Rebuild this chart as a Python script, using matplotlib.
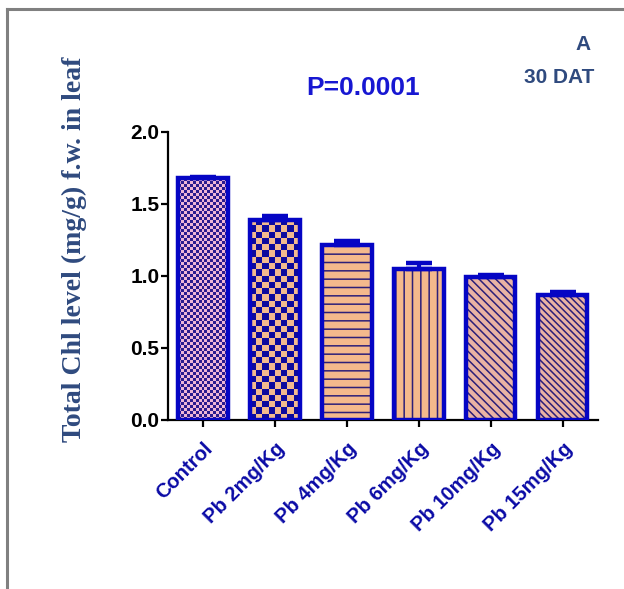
import matplotlib
matplotlib.use("Agg")
import matplotlib.pyplot as plt
from matplotlib.lines import Line2D
from matplotlib.colors import ListedColormap
import numpy as np

# Data: total chlorophyll in leaf at 30 DAT
categories = ["Control", "Pb 2mg/Kg", "Pb 4mg/Kg", "Pb 6mg/Kg", "Pb 10mg/Kg", "Pb 15mg/Kg"]
means = [1.68, 1.39, 1.215, 1.05, 0.99, 0.865]
errors = [0.01, 0.025, 0.025, 0.04, 0.015, 0.025]
yticks = [0.0, 0.5, 1.0, 1.5, 2.0]
ytick_labels = ["0.0", "0.5", "1.0", "1.5", "2.0"]

# Fill style per bar: checkerboard (cell size in px) or matplotlib hatch
styles = [
    {"kind": "checker", "cell": 3.0, "dark": "#2b1c8e", "light": "#eeb6d6"},
    {"kind": "checker", "cell": 6.2, "dark": "#0c0a9e", "light": "#f2ba8e"},
    {"kind": "hatch", "hatch": "--", "face": "#f4b98c"},
    {"kind": "hatch", "hatch": "||", "face": "#f4b98c"},
    {"kind": "hatch", "hatch": "\\\\\\\\", "face": "#eab3a4"},
    {"kind": "hatch", "hatch": "\\\\\\\\\\", "face": "#eab3a4"},
]

EDGE = "#0505c4"
HATCH = "#2d1f78"
SANS = "Liberation Sans"
SERIF = "Liberation Serif"

plt.rcParams["hatch.linewidth"] = 1.1
plt.rcParams["hatch.color"] = HATCH

fig = plt.figure(figsize=(6.24, 5.89), dpi=100)
ax = fig.add_axes([0.269, 0.287, 0.689, 0.489])

x = np.arange(len(categories))
width = 0.69
ax.set_xlim(-0.49, len(categories) - 0.51)
ax.set_ylim(0, 2.0)

# Fill layer
bars = []
for xi, m, st in zip(x, means, styles):
    if st["kind"] == "hatch":
        b = ax.bar(xi, m, width, color=st["face"], edgecolor=HATCH,
                   hatch=st["hatch"], linewidth=0, zorder=2)
    else:
        b = ax.bar(xi, m, width, color=st["light"], linewidth=0, zorder=2)
    bars.append(b[0])

fig.canvas.draw()

# Checkerboard fills, clipped to their bars
for bar, st in zip(bars, styles):
    if st["kind"] != "checker":
        continue
    x0, w, h = bar.get_x(), bar.get_width(), bar.get_height()
    p0 = ax.transData.transform((x0, 0))
    p1 = ax.transData.transform((x0 + w, h))
    ncols = max(1, int(round((p1[0] - p0[0]) / st["cell"])))
    nrows = max(1, int(round((p1[1] - p0[1]) / st["cell"])))
    grid = (np.add.outer(np.arange(nrows), np.arange(ncols)) % 2).astype(float)
    cmap = ListedColormap([st["dark"], st["light"]])
    im = ax.imshow(grid, cmap=cmap, extent=(x0, x0 + w, 0, h), origin="lower",
                   interpolation="nearest", aspect="auto", zorder=2.5)
    im.set_clip_path(bar)

# Outlines
ax.bar(x, means, width, fill=False, edgecolor=EDGE, linewidth=3.2, zorder=3)

# Upward error bars
ax.errorbar(x, means, yerr=[np.zeros(len(means)), errors], fmt="none",
            ecolor=EDGE, elinewidth=3, capsize=9.5, capthick=3.2, zorder=4)

ax.set_xlim(-0.49, len(categories) - 0.51)
ax.set_ylim(0, 2.0)

for side in ("top", "right"):
    ax.spines[side].set_visible(False)
for side in ("left", "bottom"):
    ax.spines[side].set_linewidth(1.6)
    ax.spines[side].set_color("black")

ax.set_yticks(yticks)
ax.set_yticklabels(ytick_labels, fontsize=15, fontweight="bold", family=SANS)
ax.set_xticks(x)
ax.set_xticklabels(categories, rotation=45, ha="right", rotation_mode="anchor",
                   fontsize=14.5, fontweight="bold", family=SANS, color="#0b0ba6")
ax.tick_params(axis="both", width=1.6, length=5, direction="out")
ax.tick_params(axis="x", pad=9)
ax.tick_params(axis="y", pad=1)

fig.text(0.12, 0.576, "Total Chl level (mg/g) f.w. in leaf", rotation=90,
         ha="center", va="center", fontsize=20, fontweight="bold",
         family=SERIF, color="#2f4a7e")

fig.text(0.582, 0.851, "P=0.0001", ha="center", va="center", fontsize=19,
         fontweight="bold", family=SANS, color="#1717d2")
fig.text(0.934, 0.924, "A", ha="center", va="center", fontsize=15,
         fontweight="bold", family=SANS, color="#2f4a7e")
fig.text(0.896, 0.868, "30 DAT", ha="center", va="center", fontsize=15,
         fontweight="bold", family=SANS, color="#2f4a7e")

# Panel frame (top and left edges)
fig.add_artist(Line2D([0.011, 1.0], [0.985, 0.985], transform=fig.transFigure,
                      color="#808080", linewidth=2.2))
fig.add_artist(Line2D([0.011, 0.011], [0.0, 0.985], transform=fig.transFigure,
                      color="#808080", linewidth=2.2))

fig.savefig("out.png", dpi=100)
